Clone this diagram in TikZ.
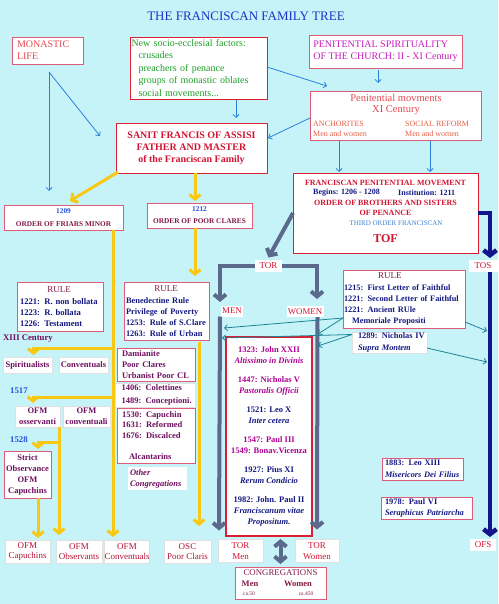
\documentclass[tikz,border=0pt]{standalone}
\usepackage{fontspec}
\setmainfont{Liberation Serif}
\usetikzlibrary{arrows.meta,calc}
\definecolor{bgc}{RGB}{198,243,248}
\definecolor{titleblue}{RGB}{30,50,200}
\definecolor{salmon}{RGB}{232,70,80}
\definecolor{orangered}{RGB}{230,95,70}
\definecolor{socgreen}{RGB}{30,160,40}
\definecolor{penmag}{RGB}{200,30,190}
\definecolor{sred}{RGB}{210,20,50}
\definecolor{botred}{RGB}{180,20,55}
\definecolor{navy}{RGB}{20,25,130}
\definecolor{brightblue}{RGB}{30,80,220}
\definecolor{maroon}{RGB}{130,25,70}
\definecolor{purp}{RGB}{110,15,95}
\definecolor{popemag}{RGB}{175,0,145}
\definecolor{steel}{RGB}{60,130,210}
\definecolor{pinkb}{RGB}{225,90,120}
\definecolor{redb}{RGB}{220,30,50}
\definecolor{gold}{RGB}{248,200,20}
\definecolor{slate}{RGB}{90,105,140}
\definecolor{deepnavy}{RGB}{20,20,140}
\definecolor{arrblue}{RGB}{40,130,220}
\definecolor{teal2}{RGB}{30,130,150}
\newcommand\myfs[2]{\fontsize{#1}{#2}\selectfont}
\newcommand\myln[1]{\mbox{#1}}
\begin{document}
\begin{tikzpicture}[x=1pt,y=-1pt,
  bx/.style={draw=pinkb, fill=white, line width=0.7pt, inner sep=0pt, outer sep=0pt},
  rbx/.style={bx, draw=redb},
  wbx/.style={draw=black!12, fill=white, line width=0.4pt, inner sep=0pt, outer sep=0pt},
  lab/.style={fill=white, inner sep=0pt, outer sep=0pt},
  txt/.style={inner sep=0pt},
  botl/.style={wbx, minimum height=23pt, align=center, font=\myfs{9}{10.5}, text=botred},
  blarr/.style={draw=arrblue, line width=0.8pt, -{Straight Barb[length=3pt,width=6pt]}},
  yarr/.style={draw=gold, line width=3pt, -{Straight Barb[length=4.5pt,width=11pt]}},
  garr/.style={draw=slate, line width=4pt, -{Straight Barb[length=5pt,width=12pt]}},
  narr/.style={draw=deepnavy, line width=4.5pt, -{Straight Barb[length=5pt,width=13pt]}},
  tarr/.style={draw=teal2, line width=0.8pt, -{Straight Barb[length=3pt,width=6pt]}}
]
\useasboundingbox (0,0) rectangle (498,604);
\fill[bgc] (0,0) rectangle (498,604);

% ---------- top ----------
\node[txt, text=titleblue, font=\myfs{13}{15}] (title) at (246,16) {THE FRANCISCAN FAMILY TREE};

\node[bx, minimum width=71pt, minimum height=27pt, text width=61pt, inner xsep=5pt, align=left, text=salmon, font=\myfs{10}{12}] (monastic) at (47.5,50.5) {MONASTIC\\LIFE};

\node[rbx, minimum width=137pt, minimum height=62pt, text width=134pt, inner xsep=1.5pt, align=left, text=socgreen, font=\myfs{10}{12.5}] (socio) at (198.5,68) {\myln{New socio-ecclesial factors:}\\\myln{\hspace*{7pt}crusades}\\\myln{\hspace*{7pt}preachers of penance}\\\myln{\hspace*{7pt}groups of monastic oblates}\\\myln{\hspace*{7pt}social movements...}};

\node[bx, minimum width=153pt, minimum height=33pt, align=left, text=penmag, font=\myfs{10}{11.5}] (pens) at (385.5,51.5) {PENITENTIAL SPIRITUALITY\\OF THE CHURCH: II - XI Century};

\node[bx, minimum width=171pt, minimum height=49pt] (pm) at (395.5,115.5) {};
\node[txt, text=salmon, font=\myfs{10.5}{12}] (pmt1) at (396,98) {Penitential movments};
\node[txt, text=salmon, font=\myfs{10.5}{12}] (pmt2) at (396,110.5) {XI Century};
\node[txt, anchor=west, text=orangered, font=\myfs{8}{9}] (anch) at (313,124) {ANCHORITES};
\node[txt, anchor=west, text=orangered, font=\myfs{8}{9}] (anchmw) at (313,133.5) {Men and women};
\node[txt, anchor=west, text=orangered, font=\myfs{8}{9}] (socref) at (405,124) {SOCIAL REFORM};
\node[txt, anchor=west, text=orangered, font=\myfs{8}{9}] (socmw) at (405,133.5) {Men and women};

\node[rbx, minimum width=151pt, minimum height=50pt, align=center, text=sred, font=\bfseries\myfs{10}{12}] (sanit) at (191.5,148) {SANIT FRANCIS OF ASSISI\\FATHER AND MASTER\\of the Franciscan Family};

\node[bx, minimum width=119pt, minimum height=25pt, align=center, font=\bfseries\myfs{7.3}{13}] (fm) at (63.5,217.5) {\textcolor{brightblue}{1209}\\\textcolor{maroon}{ORDER OF FRIARS MINOR}};
\node[bx, minimum width=105pt, minimum height=25pt, align=center, font=\bfseries\myfs{7.3}{12}] (pc) at (199.5,215.5) {\textcolor{brightblue}{1212}\\\textcolor{maroon}{ORDER OF POOR CLARES}};

\node[rbx, minimum width=185pt, minimum height=80pt] (fpm) at (385.5,213) {};
\node[txt, text=sred, font=\bfseries\myfs{8}{9}] (fpm1) at (385.5,183) {FRANCISCAN PENITENTIAL MOVEMENT};
\node[txt, anchor=west, text=navy, font=\bfseries\myfs{8}{9}] (fpm2) at (313,193) {Begins: 1206 - 1208};
\node[txt, anchor=west, text=navy, font=\bfseries\myfs{8}{9}] (fpm3) at (398,193) {Institution: 1211};
\node[txt, text=sred, font=\bfseries\myfs{8}{9}] (fpm4) at (385.5,202.5) {ORDER OF BROTHERS AND SISTERS};
\node[txt, text=sred, font=\bfseries\myfs{8}{9}] (fpm5) at (385.5,213) {OF PENANCE};
\node[txt, text=steel, font=\myfs{7}{8}] (fpm6) at (396,223) {THIRD ORDER FRANCISCAN};
\node[txt, text=sred, font=\bfseries\myfs{12}{13}] (fpm7) at (385.5,239) {TOF};

% ---------- labels ----------
\node[lab, minimum width=27pt, minimum height=12pt, text=sred, font=\myfs{9}{10}] (tor) at (268.5,265.5) {TOR};
\node[lab, minimum width=29pt, minimum height=12pt, text=sred, font=\myfs{9}{10}] (tos) at (483,266) {TOS};
\node[lab, minimum width=22pt, minimum height=11pt, text=sred, font=\myfs{8.8}{10}] (men) at (232,311) {MEN};
\node[lab, minimum width=37pt, minimum height=11pt, text=sred, font=\myfs{8.8}{10}] (women) at (305,311.5) {WOMEN};
\node[lab, minimum width=26pt, minimum height=12pt, text=sred, font=\myfs{9}{10}] (ofs) at (483,545) {OFS};

% ---------- rules ----------
\node[bx, minimum width=86pt, minimum height=49pt, text width=80pt, inner xsep=3pt, align=left, font=\bfseries\myfs{8.6}{11}, text=navy] (rule1) at (60,306.5) {\makebox[78pt]{\mdseries\myfs{9}{11}\textcolor{maroon}{RULE}}\\[1pt]\myln{1221: R. non bollata}\\\myln{1223: R. bollata}\\\myln{1226: Testament}};

\node[bx, minimum width=85pt, minimum height=58pt, text width=81pt, inner xsep=2pt, align=left, font=\bfseries\myfs{8.4}{10.8}, text=navy] (rule2) at (166.5,311) {\makebox[80pt]{\mdseries\myfs{9}{11}\textcolor{maroon}{RULE}}\\[1.5pt]\myln{Benedectine Rule}\\\myln{Privilege of Poverty}\\\myln{1253: Rule of S.Clare}\\\myln{1263: Rule of Urban}};

\node[bx, minimum width=122pt, minimum height=58pt, text width=120pt, inner xsep=1pt, align=left, font=\bfseries\myfs{8.3}{11.2}, text=navy] (rule3) at (404,299) {\myln{\hspace*{34pt}{\mdseries\myfs{9}{11}\textcolor{maroon}{RULE}}}\\[0.5pt]\myln{1215: First Letter of Faithful}\\\myln{1221: Second Letter of Faithful}\\\myln{1221: Ancient RUle}\\\myln{\hspace*{8pt}Memoriale Propositi}};

\node[wbx, minimum width=75pt, minimum height=21pt, text width=71pt, inner xsep=2pt, align=left, font=\bfseries\myfs{8.4}{12}, text=navy] (nic) at (389.5,342.5) {\myln{\hspace*{4pt}1289: Nicholas IV}\\\myln{\hspace*{4pt}\textit{Supra Montem}}};

\node[bx, minimum width=81pt, minimum height=22pt, text width=79pt, inner xsep=1pt, align=left, font=\bfseries\myfs{8.3}{12}, text=navy] (leo) at (422.5,469) {\myln{\hspace*{2pt}1883: Leo XIII}\\\myln{\hspace*{2pt}\textit{Misericors Dei Filius}}};
\node[bx, minimum width=91pt, minimum height=22pt, text width=87pt, inner xsep=2pt, align=left, font=\bfseries\myfs{8.4}{11}, text=navy] (paul6) at (426.5,508) {\myln{\hspace*{2pt}1978: Paul VI}\\\myln{\hspace*{2pt}\textit{Seraphicus Patriarcha}}};

\node[draw=redb, line width=2pt, fill=white, inner sep=0pt, minimum width=86pt, minimum height=199pt, align=center, font=\bfseries\myfs{8.5}{11}] (popes) at (269,436.5) {%
\textcolor{popemag}{1323: John XXII}\\
\textcolor{popemag}{\textit{Altissimo in Divinis}}\\[8pt]
\textcolor{popemag}{1447: Nicholas V}\\
\textcolor{popemag}{\textit{Pastoralis Officii}}\\[8pt]
\textcolor{navy}{1521: Leo X}\\
\textcolor{navy}{\textit{Inter cetera}}\\[8pt]
\textcolor{popemag}{1547: Paul III}\\
\textcolor{popemag}{1549: Bonav.Vicenza}\\[8pt]
\textcolor{navy}{1927: Pius XI}\\
\textcolor{navy}{\textit{Rerum Condicio}}\\[8pt]
\textcolor{navy}{1982: John. Paul II}\\
\textcolor{navy}{\textit{Franciscanum vitae}}\\
\textcolor{navy}{\textit{Propositum.}}};

% ---------- left branches ----------
\node[txt, anchor=west, text=purp, font=\bfseries\myfs{8.7}{10}] (xiii) at (3,339) {XIII Century};
\node[wbx, minimum width=49pt, minimum height=16pt, text=purp, font=\bfseries\myfs{8.5}{10}] (spir) at (27.5,365) {Spiritualists};
\node[wbx, minimum width=49pt, minimum height=16pt, text=purp, font=\bfseries\myfs{8.5}{10}] (convt) at (83.5,365) {Conventuals};
\node[txt, anchor=west, text=brightblue, font=\bfseries\myfs{8.7}{10}] (y1517) at (10,391) {1517};
\node[wbx, minimum width=45pt, minimum height=21pt, align=center, font=\bfseries\myfs{8.5}{11}, text=purp] (oss) at (37.5,416.5) {OFM\\osservanti};
\node[wbx, minimum width=47pt, minimum height=21pt, align=center, font=\bfseries\myfs{8.5}{11}, text=purp] (ocv) at (86.5,416.5) {OFM\\conventuali};
\node[txt, anchor=west, text=brightblue, font=\bfseries\myfs{8.7}{10}] (y1528) at (10,440) {1528};
\node[bx, minimum width=47pt, minimum height=47pt, align=center, font=\bfseries\myfs{8.5}{11}, text=purp] (strict) at (27.5,474.5) {Strict\\Observance\\OFM\\Capuchins};

\node[bx, minimum width=78pt, minimum height=33pt, text width=74pt, inner xsep=2pt, align=left, font=\bfseries\myfs{8.5}{11}, text=purp] (dam) at (156,364.5) {\myln{\hspace*{3pt}Damianite}\\\myln{\hspace*{3pt}Poor Clares}\\\myln{\hspace*{3pt}Urbanist Poor CL}};
\node[wbx, minimum width=80pt, minimum height=24pt, text width=77pt, inner xsep=1.5pt, align=left, font=\bfseries\myfs{8.5}{12.5}, text=purp] (col) at (155,395) {\myln{\hspace*{5pt}1406: Colettines}\\\myln{\hspace*{5pt}1489: Conceptioni.}};
\node[bx, minimum width=78pt, minimum height=55pt, text width=74pt, inner xsep=2pt, align=left, font=\bfseries\myfs{8.5}{10.7}, text=purp] (cap) at (156,435.5) {\myln{\hspace*{3pt}1530: Capuchin}\\\myln{\hspace*{3pt}1631: Reformed}\\\myln{\hspace*{3pt}1676: Discalced}\\[10.7pt]\myln{\hspace*{10pt}Alcantarins}};
\node[lab, minimum width=59pt, minimum height=23pt, text width=57pt, inner xsep=1pt, align=left, font=\bfseries\itshape\myfs{8.5}{11}, text=purp] (other) at (157.5,478.5) {\myln{\hspace*{1pt}Other}\\\myln{\hspace*{1pt}Congregations}};

% ---------- bottom row ----------
\node[botl, minimum width=45pt] (capb) at (27.5,551.5) {OFM\\Capuchins};
\node[botl, minimum width=46pt] (obs) at (79,551.5) {OFM\\Observants};
\node[botl, minimum width=42pt] (conv) at (127,551.5) {OFM\\Conventuals};
\node[botl, minimum width=47pt] (osc) at (187.5,551.5) {OSC\\Poor Claris};
\node[botl, minimum width=45pt, text=sred] (tormen) at (240.5,551) {TOR\\Men};
\node[botl, minimum width=44pt, text=sred] (torwomen) at (317,551) {TOR\\Women};

\node[bx, minimum width=91pt, minimum height=32pt] (congr) at (280.5,583) {};
\node[txt, text=maroon, font=\myfs{8.8}{10}] (congt) at (280.5,573) {CONGREGATIONS};
\node[txt, text=maroon, font=\bfseries\myfs{8.5}{9}] (cmen) at (250,583.5) {Men};
\node[txt, text=maroon, font=\bfseries\myfs{8.5}{9}] (cwom) at (298,583.5) {Women};
\node[txt, text=maroon, font=\myfs{5.5}{6}] (c50) at (249,593.5) {ca.50};
\node[txt, text=maroon, font=\myfs{5.5}{6}] (c450) at (306,593.5) {ca.450};

% ---------- blue thin arrows ----------
\coordinate (mls) at ($(monastic.south)+(1.5,8)$);
\draw[blarr] (mls) -- ($(monastic.south |- fm.north)+(1.5,-14)$);
\draw[blarr] (mls) -- ($(sanit.west)+(-16,-12)$);
\draw[blarr] ($(socio.south)+(37.5,1)$) -- ($(sanit.north)+(44.5,-5)$);
\draw[blarr] ($(socio.east)+(0,-1)$) -- ($(pm.north west)+(17,-5)$);
\draw[blarr] ($(pens.south)+(-7.5,2)$) -- ($(pm.north)+(-17.5,-8)$);
\draw[blarr] ($(pm.west)+(0,2.5)$) -- ($(sanit.east)+(1,-10)$);
\draw[blarr] ($(pm.south)+(-56.5,1)$) -- ($(fpm.north)+(-46.5,-1)$);
\draw[blarr] ($(pm.south)+(34.5,1)$) -- ($(fpm.north)+(44.5,-1)$);

% ---------- yellow arrows ----------
\draw[yarr] ($(sanit.south west)+(2,-1)$) -- ($(fm.north)+(6.5,-4)$);
\draw[yarr] ($(sanit.south)+(3.5,0)$) -- ($(pc.north)+(-4.5,-2)$);
\draw[yarr] ($(fm.south)+(49.5,0)$) -- ($(conv.north)+(-14,-3)$);
\coordinate (j1) at (113,348);
\draw[yarr] (j1) -| ($(spir.north)+(6,-2)$);
\coordinate (j2) at (113,397);
\draw[yarr] (j2) -| ($(oss.north)+(-4.5,-3)$);
\draw[yarr] ($(oss.south east)+(-1,0)$) -- ($(obs.north)+(-20,-5)$);
\coordinate (j3) at (59,442);
\draw[yarr] (j3) -| ($(strict.north)+(10.5,-2)$);
\draw[yarr] ($(strict.south)+(10.5,0)$) -- ($(capb.north)+(10.5,-2)$);
\draw[yarr] ($(pc.south)+(-4.5,0)$) -- ($(rule2.north)+(28.5,-6)$);
\draw[yarr] ($(rule2.south)+(32.5,2)$) -- ($(osc.north)+(11.5,-14)$);

% ---------- grey TOR arrows ----------
\draw[garr] (fpm.west) -- ($(tor.north)+(0,-2)$);
\coordinate (menarr) at (220,302);
\draw[garr] (tor.west) -| (menarr);
\coordinate (womarr) at (317,299);
\draw[garr] (tor.east) -| (womarr);
\draw[garr] ($(men.south)+(-12,0)$) -- ($(tormen.north)+(-21.5,-9)$);
\draw[garr] ($(women.south)+(12.5,0)$) -- ($(torwomen.north)+(0,-10)$);
\draw[draw=slate, line width=4pt, {Straight Barb[length=5pt,width=12pt]}-{Straight Barb[length=5pt,width=12pt]}] ($(congr.north |- popes.south)+(0,2)$) -- ($(congr.north)+(0,-3)$);

% ---------- navy TOS arrows ----------
\draw[narr] (fpm.east) -| ($(tos.north)+(7,-2)$);
\draw[narr] ($(tos.south)+(7,0)$) -- ($(ofs.north)+(7,-2)$);

% ---------- teal arrows ----------
\coordinate (tm1) at (224,328);
\coordinate (tw1) at (318,334);
\coordinate (tm2) at (222,338);
\coordinate (tw2) at (318,346);
\coordinate (ts1) at (487,331);
\coordinate (ts2) at (487,362);
\draw[tarr] ($(rule3.west)+(0,19)$) -- (tm1);
\draw[tarr] ($(rule3.west)+(0,19)$) -- (tw1);
\draw[tarr] ($(nic.west)+(0,-8)$) -- (tm2);
\draw[tarr] ($(nic.west)+(0,-8)$) -- (tw2);
\draw[tarr] ($(rule3.east)+(0,23)$) -- (ts1);
\draw[tarr] ($(nic.east)+(0,5.5)$) -- (ts2);
\end{tikzpicture}
\end{document}
